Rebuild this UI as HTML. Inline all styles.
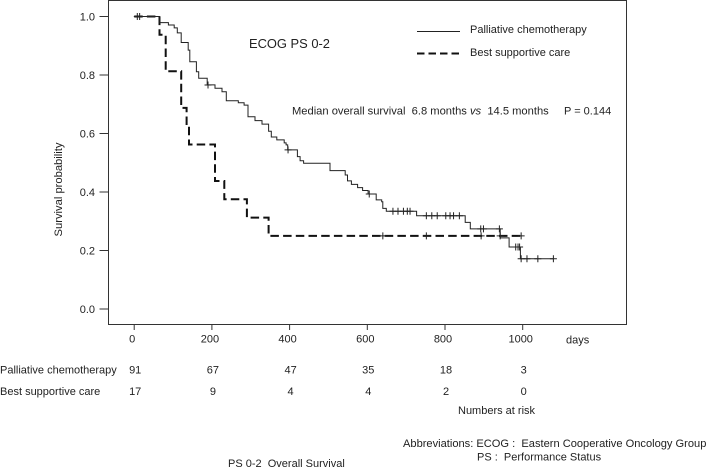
<!DOCTYPE html>
<html><head><meta charset="utf-8"><title>PS 0-2 Overall Survival</title>
<style>
html,body{margin:0;padding:0;background:#fff}
svg{display:block}
text{font-family:"Liberation Sans",sans-serif;font-size:11px;fill:#222}
</style></head>
<body>
<svg id="chart" width="707" height="467" viewBox="0 0 707 467" xmlns="http://www.w3.org/2000/svg">
<rect x="108.5" y="0.5" width="518" height="324" fill="none" stroke="#333" stroke-width="1"/>
<text x="249" y="48" style="font-size:12.9px">ECOG PS 0-2</text>
<line x1="417" y1="31.5" x2="460" y2="31.5" stroke="#222" stroke-width="1"/>
<text x="470" y="33">Palliative chemotherapy</text>
<line x1="417" y1="53.5" x2="460" y2="53.5" stroke="#111" stroke-width="2" stroke-dasharray="7.5,4"/>
<text x="470" y="56">Best supportive care</text>
<text x="292" y="114.5" xml:space="preserve" style="font-size:11.17px">Median overall survival  6.8 months <tspan font-style="italic">vs</tspan>  14.5 months</text>
<text x="564" y="114.5">P = 0.144</text>
<text transform="translate(62,189.5) rotate(-90)" text-anchor="middle" style="font-size:11.2px">Survival probability</text>
<text x="566" y="343.5">days</text>
<text x="0" y="373.5">Palliative chemotherapy</text>
<text x="0" y="395">Best supportive care</text>
<text x="458" y="414">Numbers at risk</text>
<text x="403" y="447" xml:space="preserve" style="font-size:11.1px">Abbreviations: ECOG :  Eastern Cooperative Oncology Group</text>
<text x="477" y="460.5" xml:space="preserve">PS :  Performance Status</text>
<text x="228" y="467" xml:space="preserve">PS 0-2  Overall Survival</text>
</svg>
<script>
const xTickValues = [0, 200, 400, 600, 800, 1000];
const yTickValues = [0, 0.2, 0.4, 0.6, 0.8, 1.0];
const riskPalliative = [91, 67, 47, 35, 18, 3];
const riskSupportive = [17, 9, 4, 4, 2, 0];
const palliativeDays = [66,88,103,111,121,139,143,160,166,188,208,226,237,268,283,293,311,329,346,353,367,386,391,395,420,427,436,504,543,549,559,575,588,602,623,637,640,649,727,852,865,942,965,994];
const palliativeSurvival = [.979,.971,.961,.944,.911,.885,.845,.811,.789,.766,.755,.743,.712,.705,.697,.657,.644,.632,.608,.588,.578,.568,.561,.544,.521,.507,.498,.473,.458,.438,.426,.415,.405,.393,.373,.367,.344,.334,.319,.296,.274,.243,.212,.172];
const palliativeEnd = 1079;
const palliativeCensored = [8,14,190,396,605,666,679,693,703,710,752,766,780,802,813,822,837,892,899,940,982,988,992,996,1011,1039,1079];
const supportiveDays = [65,81,121,135,141,208,232,290,346];
const supportiveSurvival = [.9375,.8125,.6875,.625,.5625,.4375,.375,.3125,.25];
const supportiveEnd = 1000;
const supportiveCensored = [640,752,893,942,996];

const NS = 'http://www.w3.org/2000/svg';
const svg = document.getElementById('chart');
function xScale(d){ return 134.2 + d * 0.3885; }
function yScale(s){ return 309 - s * 292.5; }
function make(tag, attrs, parent){
  const el = document.createElementNS(NS, tag);
  for (const k in attrs) el.setAttribute(k, attrs[k]);
  (parent || svg).appendChild(el);
  return el;
}
function stepPath(days, surv, end){
  let d = 'M' + xScale(0) + ' ' + yScale(1);
  for (let i = 0; i < days.length; i++){
    d += 'H' + xScale(days[i]).toFixed(1) + 'V' + yScale(surv[i]).toFixed(1);
  }
  return d + 'H' + xScale(end).toFixed(1);
}
function survivalAt(days, surv, t){
  let s = 1;
  for (let i = 0; i < days.length; i++){ if (days[i] <= t) s = surv[i]; }
  return s;
}

xTickValues.forEach(function(v){
  const tick = make('line', {x1:xScale(v), x2:xScale(v), y1:324.5, y2:330, stroke:'#333', 'stroke-width':1});
  
  
  const lab = make('text', {x:xScale(v)-2, y:342.5, 'text-anchor':'middle'});
  lab.textContent = String(v);
  
  
});
yTickValues.forEach(function(v){
  const tick = make('line', {x1:99.5, x2:108.5, y1:yScale(v), y2:yScale(v), stroke:'#333', 'stroke-width':1});
  
  
  const lab = make('text', {x:95, y:yScale(v)+4, 'text-anchor':'end'});
  lab.textContent = v.toFixed(1);
  
  
});
xTickValues.forEach(function(v, i){
  const a = make('text', {x:xScale(v)+1, y:373.5, 'text-anchor':'middle'});
  a.textContent = String(riskPalliative[i]);
  
  
  const b = make('text', {x:xScale(v)+1, y:395, 'text-anchor':'middle'});
  b.textContent = String(riskSupportive[i]);
  
  
});

const supLine = make('path', {d:stepPath(supportiveDays, supportiveSurvival, supportiveEnd), fill:'none', stroke:'#111', 'stroke-width':2, 'stroke-dasharray':'8.5,4.2'});


const palLine = make('path', {d:stepPath(palliativeDays, palliativeSurvival, palliativeEnd), fill:'none', stroke:'#222', 'stroke-width':1});



palliativeCensored.forEach(function(t){
  const s = survivalAt(palliativeDays, palliativeSurvival, t);
  const x = xScale(t), y = yScale(s);
  const m = make('path', {d:'M'+(x-3.5)+' '+y+'H'+(x+3.5)+'M'+x+' '+(y-3.5)+'V'+(y+3.5), stroke:'#222', 'stroke-width':1, fill:'none'});
  
  
});
supportiveCensored.forEach(function(t){
  const s = survivalAt(supportiveDays, supportiveSurvival, t);
  const x = xScale(t), y = yScale(s);
  const m = make('path', {d:'M'+(x-3.5)+' '+y+'H'+(x+3.5)+'M'+x+' '+(y-3.5)+'V'+(y+3.5), stroke:'#222', 'stroke-width':1, fill:'none'});
  
  
});
</script>
</body></html>
